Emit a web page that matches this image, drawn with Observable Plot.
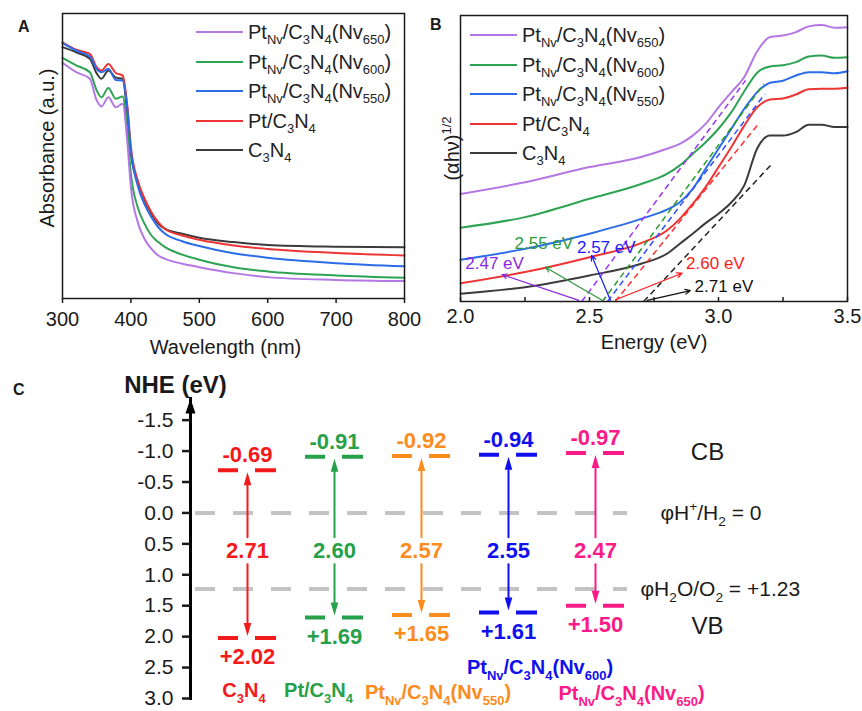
<!DOCTYPE html>
<html><head><meta charset="utf-8">
<script src="https://cdn.jsdelivr.net/npm/d3@7"></script>
<script src="https://cdn.jsdelivr.net/npm/@observablehq/plot@0.6"></script>
<style>
html,body{margin:0;padding:0;background:#fff;}
#fig{position:relative;width:862px;height:711px;overflow:hidden;font-family:"Liberation Sans",Arial,Helvetica,sans-serif;color:#1a1a1a;}
.panel{position:absolute;}
.letter{position:absolute;font-weight:bold;font-size:16px;line-height:1;}
.leg{position:absolute;display:flex;align-items:center;height:24px;font-size:20px;white-space:nowrap;line-height:1;color:#222;}
.leg .sw{display:inline-block;width:47px;height:0;border-top:2px solid;margin-right:5px;}
.leg sub{font-size:65%;vertical-align:-0.35em;line-height:0;}
</style></head><body><div id="fig"></div>
<script>
// ---------------- DATA ----------------
const seriesNames = ["C3N4", "Pt/C3N4", "PtNv/C3N4(Nv550)", "PtNv/C3N4(Nv600)", "PtNv/C3N4(Nv650)"];
const seriesRich = ["C_{3}N_{4}", "Pt/C_{3}N_{4}", "Pt_{Nv}/C_{3}N_{4}(Nv_{550})", "Pt_{Nv}/C_{3}N_{4}(Nv_{600})", "Pt_{Nv}/C_{3}N_{4}(Nv_{650})"];

// Panel A: UV-vis absorbance (a.u.)
const wavelengths = [300,320,340,350,357,367,378,388,395,400,410,420,430,440,450,475,500,550,600,700,800];
const absC3N4   = [.882,.864,.841,.790,.771,.800,.775,.771,.636,.508,.408,.344,.297,.262,.244,.227,.213,.198,.188,.182,.180];
const absPt     = [.899,.873,.858,.812,.800,.823,.791,.782,.671,.531,.414,.350,.303,.268,.244,.221,.206,.186,.174,.160,.151];
const absNv550  = [.896,.870,.849,.806,.794,.806,.767,.765,.660,.519,.396,.330,.285,.250,.227,.201,.184,.159,.143,.124,.113];
const absNv600  = [.844,.818,.794,.730,.706,.739,.701,.709,.578,.437,.320,.262,.221,.198,.180,.154,.136,.110,.095,.081,.073];
const absNv650  = [.827,.794,.771,.695,.674,.706,.671,.683,.543,.391,.268,.209,.174,.151,.139,.122,.110,.089,.075,.065,.061];
const absSeries = [absC3N4, absPt, absNv550, absNv600, absNv650];
const wlTicks = [300,400,500,600,700,800];

// Panel B: Tauc plot (αhν)^1/2 (a.u.)
const energies = [2.0,2.25,2.5,2.7,2.8,2.85,2.9,2.95,3.0,3.05,3.1,3.15,3.2,3.25,3.3,3.35,3.4,3.45,3.5];
const taucC3N4  = [.027,.050,.091,.132,.167,.202,.237,.274,.307,.347,.406,.535,.580,.580,.592,.618,.618,.610,.610];
const taucPt    = [.064,.103,.155,.204,.248,.289,.341,.400,.470,.540,.615,.679,.706,.710,.724,.742,.744,.744,.747];
const taucNv550 = [.146,.184,.237,.289,.321,.347,.394,.464,.534,.604,.674,.732,.765,.772,.790,.802,.802,.798,.805];
const taucNv600 = [.258,.295,.359,.411,.446,.476,.516,.557,.604,.662,.735,.800,.822,.826,.837,.857,.860,.852,.854];
const taucNv650 = [.376,.417,.470,.505,.534,.551,.580,.621,.679,.732,.785,.875,.925,.930,.942,.962,.967,.957,.959];
const taucSeries = [taucC3N4, taucPt, taucNv550, taucNv600, taucNv650];
const bandGaps = [2.71, 2.60, 2.57, 2.55, 2.47];           // tangent x-intercepts (eV)
const tangentEndE = [3.21, 3.16, 3.18, 3.176, 3.105];
const tangentEndY = [0.484, 0.627, 0.726, 0.761, 0.773];
const noteLabelE = [3.021, 2.988, 2.565, 2.323, 2.132];
const noteLabelY = [0.052, 0.132, 0.188, 0.202, 0.132];
const noteFromE = [2.724, 2.601, 2.581, 2.549, 2.459];
const noteFromY = [0.004, 0.006, 0.004, 0.004, 0.004];
const noteToE = [2.891, 2.859, 2.508, 2.329, 2.161];
const noteToY = [0.038, 0.099, 0.161, 0.120, 0.094];
const energyTicks = [2.0, 2.5, 3.0, 3.5];
const energyMinorTicks = [2.25, 2.75, 3.25];

// Panel C: band positions vs NHE (eV)
const cbValues = [-0.69, -0.91, -0.92, -0.94, -0.97];
const vbValues = [2.02, 1.69, 1.65, 1.61, 1.50];
const gapValues = [2.71, 2.60, 2.57, 2.55, 2.47];
const nheTicks = [-1.5, -1.0, -0.5, 0.0, 0.5, 1.0, 1.5, 2.0, 2.5, 3.0];
const potentials = [0, 1.23];
const potentialLabels = ["φH^{+}/H_{2} = 0", "φH_{2}O/O_{2} = +1.23"];

// ---------------- STYLE / LAYOUT ----------------
const FONT = '"Liberation Sans", Arial, Helvetica, sans-serif';
const lineColors = ["#3b3b3b", "#ee3434", "#2b6de8", "#2fa354", "#b477e4"];
const dashColors = ["#222222", "#ff3030", "#3050ff", "#2a9a2a", "#9933ff"];
const noteColors = ["#111111", "#ff1a1a", "#1a1aff", "#2e9b3c", "#8a2be2"];
const cColors = ["#f21a1a", "#27a04a", "#fb8c1e", "#1010ee", "#fb1a87"];
const gapLabelY = 0.62;
const nameDx = [-3.5, -16, 16.5, 31.5, 36];
const nameDy = [-8, -8, -6, -31, -5];
const baseStyle = {fontFamily: FONT, fontSize: "20px", color: "#1a1a1a", background: "transparent", overflow: "visible"};

// ---------------- HELPERS ----------------
function richHTML(s) {
  return s.replace(/_\{([^}]*)\}/g, "<sub>$1</sub>").replace(/\^\{([^}]*)\}/g, "<sup>$1</sup>");
}
function richify(svg) {
  for (const t of svg.querySelectorAll("text")) {
    const s = t.textContent;
    if (!/[_^]\{/.test(s)) continue;
    const fs = parseFloat(getComputedStyle(t).fontSize) || 16;
    while (t.firstChild) t.removeChild(t.firstChild);
    let shift = 0;
    for (const p of s.split(/([_^]\{[^}]*\})/)) {
      if (!p) continue;
      const ts = document.createElementNS("http://www.w3.org/2000/svg", "tspan");
      let target = 0, txt = p;
      if (/^[_^]\{/.test(p)) {
        target = p[0] === "_" ? 0.28 * fs : -0.42 * fs;
        txt = p.slice(2, -1);
        ts.setAttribute("font-size", (0.65 * fs) + "px");
      }
      if (target !== shift) ts.setAttribute("dy", target - shift);
      shift = target;
      ts.textContent = txt;
      t.appendChild(ts);
    }
  }
}
const fig = document.getElementById("fig");
function place(node, left, top) {
  const d = document.createElement("div");
  d.className = "panel";
  d.style.left = left + "px"; d.style.top = top + "px";
  d.appendChild(node);
  fig.appendChild(d);
  richify(node);
}
function letter(txt, left, top) {
  const d = document.createElement("div");
  d.className = "letter"; d.textContent = txt;
  d.style.left = left + "px"; d.style.top = top + "px";
  fig.appendChild(d);
}
function legend(left, firstRowY, step) {
  [4, 3, 2, 1, 0].forEach((k, r) => {
    const d = document.createElement("div");
    d.className = "leg";
    d.style.left = left + "px";
    d.style.top = (firstRowY + r * step - 12) + "px";
    d.innerHTML = `<span class="sw" style="border-color:${lineColors[k]}"></span><span>${richHTML(seriesRich[k])}</span>`;
    fig.appendChild(d);
  });
}
const signed = v => (v > 0 ? "+" : "") + v.toFixed(2);

// ---------------- PANEL A ----------------
const rowsA = [];
absSeries.forEach((vals, k) => vals.forEach((a, i) => rowsA.push({series: seriesNames[k], wl: wavelengths[i], a})));
const plotA = Plot.plot({
  width: 430, height: 360, marginLeft: 62, marginRight: 26, marginTop: 13, marginBottom: 62,
  style: baseStyle,
  x: {domain: [300, 800]},
  y: {domain: [0, 1], axis: null},
  color: {domain: seriesNames, range: lineColors},
  marks: [
    Plot.line(rowsA, {x: "wl", y: "a", z: "series", stroke: "series", strokeWidth: 2, curve: "monotone-x"}),
    Plot.frame({stroke: "#1a1a1a", strokeWidth: 1.5}),
    Plot.axisX({ticks: wlTicks, tickSize: 5, tickPadding: 8, tickFormat: d => String(d), fontSize: 20, strokeWidth: 1.5, label: null}),
    Plot.text(["Wavelength (nm)"], {text: d => d, frameAnchor: "bottom", lineAnchor: "middle", textAnchor: "middle", dy: 49, dx: -8, fontSize: 20}),
    Plot.text(["Absorbance (a.u.)"], {text: d => d, frameAnchor: "left", textAnchor: "middle", lineAnchor: "middle", rotate: -90, dx: -14.5, dy: -8, fontSize: 20})
  ]
});
place(plotA, 0, 0);
legend(196, 32, 29.5);
letter("A", 18, 19);

// ---------------- PANEL B ----------------
const rowsB = [];
taucSeries.forEach((vals, k) => vals.forEach((v, i) => rowsB.push({series: seriesNames[k], e: energies[i], v})));
const tangentsB = seriesNames.map((s, k) => ({series: s, e0: bandGaps[k], e1: tangentEndE[k], v1: tangentEndY[k]}));
const plotB = Plot.plot({
  width: 432, height: 360, marginLeft: 30, marginRight: 15, marginTop: 15, marginBottom: 59,
  style: baseStyle,
  x: {domain: [2.0, 3.5]},
  y: {domain: [0, 1], axis: null},
  color: {domain: seriesNames, range: lineColors},
  marks: [
    Plot.line(rowsB, {x: "e", y: "v", z: "series", stroke: "series", strokeWidth: 2, curve: "monotone-x"}),
    ...tangentsB.map((t, k) => Plot.link([t], {x1: "e0", y1: () => 0, x2: "e1", y2: "v1", stroke: dashColors[k], strokeWidth: 1.5, strokeDasharray: "6,4"})),
    ...seriesNames.map((s, k) => Plot.arrow([k], {x1: () => noteFromE[k], y1: () => noteFromY[k], x2: () => noteToE[k], y2: () => noteToY[k], stroke: noteColors[k], strokeWidth: 1.2, headLength: 7, headAngle: 50})),
    ...seriesNames.map((s, k) => Plot.text([k], {x: () => noteLabelE[k], y: () => noteLabelY[k], text: () => bandGaps[k].toFixed(2) + " eV", fill: noteColors[k], fontSize: 17})),
    Plot.frame({stroke: "#1a1a1a", strokeWidth: 1.5}),
    Plot.ruleX(energyTicks.concat(energyMinorTicks), {x: d => d, insetTop: 282, stroke: "#1a1a1a", strokeWidth: 1.5}),
    Plot.axisX({ticks: energyTicks, tickSize: 0, tickPadding: 7, tickFormat: d => d.toFixed(1), fontSize: 20, label: null}),
    Plot.text(["Energy (eV)"], {text: d => d, frameAnchor: "bottom", lineAnchor: "middle", textAnchor: "middle", dy: 41, fontSize: 20}),
    Plot.text(["(αhν)^{1/2}"], {text: d => d, frameAnchor: "left", textAnchor: "middle", lineAnchor: "middle", rotate: -90, dx: -8, dy: -10, fontSize: 20})
  ]
});
place(plotB, 430, 0);
legend(470, 35, 29.6);
letter("B", 430, 17);

// ---------------- PANEL C ----------------
const levels = seriesNames.map((s, i) => ({sample: s, cb: cbValues[i], vb: vbValues[i], gap: gapValues[i]}));
const headUp = {draw(ctx) { ctx.moveTo(0, 0); ctx.lineTo(3.8, 13); ctx.lineTo(-3.8, 13); ctx.closePath(); }};
const headDown = {draw(ctx) { ctx.moveTo(0, 0); ctx.lineTo(3.8, -13); ctx.lineTo(-3.8, -13); ctx.closePath(); }};
const axisHead = {draw(ctx) { ctx.moveTo(0, 0); ctx.lineTo(5, 15); ctx.lineTo(-5, 15); ctx.closePath(); }};
const plotC = Plot.plot({
  width: 862, height: 361, marginLeft: 190, marginRight: 235, marginTop: 48, marginBottom: 13,
  style: baseStyle,
  x: {type: "point", domain: seriesNames, range: [246, 596], padding: 0, axis: null},
  y: {domain: [-1.85, 3.0], reverse: true, axis: null},
  color: {domain: seriesNames, range: cColors},
  marks: [
    Plot.ruleY(potentials, {y: d => d, stroke: "#c3c3c3", strokeWidth: 4, strokeDasharray: "20,18", strokeDashoffset: -5}),
    Plot.ruleY(levels, {x1: "sample", x2: "sample", y: "cb", stroke: "sample", strokeWidth: 4, insetLeft: -29, insetRight: -29, strokeDasharray: "20,17,21"}),
    Plot.ruleY(levels, {x1: "sample", x2: "sample", y: "vb", stroke: "sample", strokeWidth: 4, insetLeft: -29, insetRight: -29, strokeDasharray: "20,17,21"}),
    Plot.arrow(levels, {x1: "sample", x2: "sample", y1: () => gapLabelY, y2: "cb", stroke: "sample", strokeWidth: 2, headLength: 0, insetStart: 14, insetEnd: 8}),
    Plot.arrow(levels, {x1: "sample", x2: "sample", y1: () => gapLabelY, y2: "vb", stroke: "sample", strokeWidth: 2, headLength: 0, insetStart: 13, insetEnd: 8}),
    Plot.dot(levels, {x: "sample", y: "cb", symbol: headUp, r: 4, fill: "sample", stroke: null, dy: 2}),
    Plot.dot(levels, {x: "sample", y: "vb", symbol: headDown, r: 4, fill: "sample", stroke: null, dy: -2}),
    Plot.text(levels, {x: "sample", y: "cb", text: d => signed(d.cb), dy: -15, fill: "sample", fontWeight: "bold", fontSize: 22}),
    Plot.text(levels, {x: "sample", y: "vb", text: d => signed(d.vb), dy: 19, fill: "sample", fontWeight: "bold", fontSize: 22}),
    Plot.text(levels, {x: "sample", y: () => gapLabelY, text: d => d.gap.toFixed(2), fill: "sample", fontWeight: "bold", fontSize: 22}),
    ...seriesNames.map((s, i) => Plot.text([s], {x: d => d, text: () => seriesRich[i], frameAnchor: "bottom", lineAnchor: "middle", textAnchor: "middle", dx: nameDx[i], dy: nameDy[i], fill: cColors[i], fontWeight: "bold", fontSize: 20})),
    Plot.text([potentialLabels[0]], {text: d => d, y: () => potentials[0], frameAnchor: "right", dx: 33, textAnchor: "start", fontSize: 21}),
    Plot.text([potentialLabels[1]], {text: d => d, y: () => potentials[1], frameAnchor: "right", dx: 13, textAnchor: "start", fontSize: 21}),
    Plot.text(["CB"], {text: d => d, y: () => d3.min(cbValues), frameAnchor: "right", textAnchor: "middle", dx: 80, dy: -1, fontSize: 24}),
    Plot.text(["VB"], {text: d => d, y: () => d3.mean(vbValues), frameAnchor: "right", textAnchor: "middle", dx: 80, dy: 9, fontSize: 24}),
    Plot.frame({anchor: "left", stroke: "#000", strokeWidth: 3}),
    Plot.dot([0], {frameAnchor: "top-left", symbol: axisHead, r: 5, fill: "#000", stroke: null}),
    Plot.axisY({ticks: nheTicks, anchor: "left", tickSize: 8, tickPadding: 9, strokeWidth: 2.5, tickFormat: d => d.toFixed(1), fontSize: 21, label: null}),
    Plot.text(["NHE (eV)"], {text: d => d, frameAnchor: "top-left", textAnchor: "middle", lineAnchor: "middle", dx: -15, dy: -13, fontWeight: "bold", fontSize: 24})
  ]
});
place(plotC, 0, 350);
letter("C", 13, 382);
</script></body></html>
